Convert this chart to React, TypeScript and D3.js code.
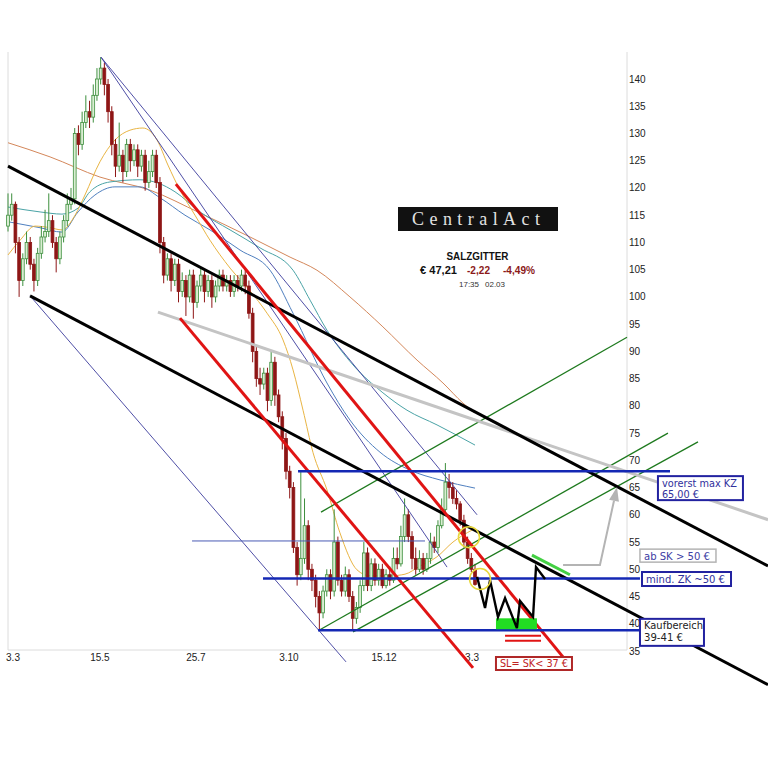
import React from 'react';
import * as d3 from 'd3';

// candle closes, one every 2 trading days
const closes = [
  115, 117, 110, 103, 107, 110, 106, 103, 108, 111,
  112, 114, 110, 107, 111, 114, 117, 118, 130, 128,
  132, 134, 133, 137, 140, 142, 139, 134, 128, 124,
  126, 123, 128, 125, 127, 124, 126, 121, 123, 126,
  121, 110, 104, 107, 103, 106, 101, 103, 100, 104,
  99, 102, 104, 101, 103, 100, 102, 104, 102, 103,
  101, 103, 102, 104, 102, 97, 90, 85, 84, 86,
  81, 88, 82, 78, 74, 68, 65, 54, 49, 52,
  58, 50, 48, 45, 42, 46, 49, 46, 55, 48,
  46, 49, 45, 41, 43, 47, 53, 47, 51, 48,
  50, 47, 49, 48, 52, 51, 56, 60, 56, 52,
  50, 52, 50, 52, 55, 54, 58, 61, 66, 65,
  63, 62, 59, 55, 52, 50, 47.2,
];
const highs = [
  119, 119, 117.5, 111, 108, 112, 111, 107, 109, 113,
  116, 119, 115, 111, 112, 115, 119, 120, 131, 131.5,
  134, 137, 136, 139, 142, 144, 143, 140, 135, 129,
  132, 127, 129, 129, 128, 128, 127, 127, 125, 127,
  127, 122, 111, 108, 108, 107, 107, 104.5, 104, 105,
  105, 103, 105.5, 105, 104, 104, 103, 105, 105, 104,
  104, 104, 104, 105, 105, 103, 98, 91, 87, 87,
  87, 90, 89, 83, 79, 75, 69, 66, 55, 68,
  63, 59, 51, 49, 46, 47, 50, 50, 61, 56,
  49, 50.5, 50, 46, 44, 48, 55, 54, 52, 52,
  51, 51, 50, 50.5, 54, 54, 58, 63, 61, 57,
  54, 53.5, 53, 53, 56.7, 56, 59, 63, 69.5, 67.5,
  66, 64.5, 62.5, 60, 56, 53, 51,
];
const lows = [
  112, 114, 108, 100, 102, 106, 105, 101, 102, 107,
  110, 111, 109, 104.5, 106, 110, 113, 116, 117, 126,
  127, 131, 131, 132, 136, 139, 137, 132, 126, 122,
  123, 121, 122, 123, 124, 122, 123, 119.5, 120, 122,
  120, 108, 102.5, 103, 101, 102, 99, 100, 96.5, 99,
  96, 98, 101, 99, 100, 98, 99, 101, 101, 101,
  100, 100, 101, 101, 100.5, 96, 88, 83.5, 82, 83,
  79, 80, 80, 77, 72, 66.5, 63, 53, 47, 48,
  51, 48, 46, 43, 39, 41, 45, 44.5, 45, 47,
  45, 45, 44, 39, 40, 42, 46, 46, 46, 47,
  47, 46.5, 46.5, 47, 47.5, 50, 50.5, 55, 55, 50,
  49, 49.5, 49, 49.5, 51, 53, 53, 57.5, 60, 63,
  62, 61, 58, 54, 51, 49.5, 47,
];
const firstOpen = 113;
const candleStep = 2;

// moving averages, [trading day, price]
const maLong = [
  [0, 128.3], [22.7, 125.7], [49.6, 122.0], [76.6, 119.6], [103.6, 115.4], [130.6, 111.0],
  [152.2, 107.3], [166.7, 104.9], [184.5, 100.0], [202.3, 94.5], [220.7, 88.4],
  [234.7, 84.2], [245.5, 80.5], [252, 78.7],
];
const maMid = [
  [0, 116.5], [17.3, 115.6], [29.1, 115.2], [37.8, 116.3], [44.2, 119.3], [55, 121.1],
  [71.2, 121.5], [80.9, 120.9], [90.1, 119.3], [103.6, 115.6], [119.8, 112.3], [136, 109.0],
  [153.8, 104.9], [163, 99.4], [172.1, 93.9], [186.2, 87.5], [202.3, 82.4], [215.3, 79.2],
  [231.5, 76.5], [252, 72.8],
];
const maShort = [
  [0, 113.8], [17.3, 112.7], [29.1, 111.9], [37.8, 115.6], [46.9, 118.7], [57.7, 120.2],
  [71.2, 120.2], [82, 118.2], [95.5, 115.0], [109, 112.3], [125.2, 108.6], [141.4, 104.9],
  [153.8, 97.0], [172.1, 84.2], [184.5, 77.4], [200.7, 71.5], [216.9, 68.2], [233.1, 66.4],
  [252, 64.9],
];
const maFast = [
  [0, 107.7], [6.5, 110.4], [14.6, 113.0], [22.7, 112.7], [29.1, 112.3], [36.2, 115.0],
  [41.5, 118.7], [49.6, 124.8], [57.7, 128.8], [65.8, 130.6], [72.8, 131.0], [80.4, 128.8],
  [86.3, 124.2], [92.8, 119.6], [100.9, 115.0], [109, 110.4], [119.8, 105.3], [130.6, 101.1],
  [139.8, 97.0], [148.4, 92.1], [153.8, 86.6], [159.2, 79.2], [164.6, 71.4], [172.1, 64.6],
  [179.1, 56.7], [188.3, 49.9], [195.3, 48.8], [206.1, 48.8], [214.2, 49.1], [222.3, 50.6],
  [231.5, 52.3], [240.1, 55.0], [250.4, 57.2],
];

// drawn trend lines [day, price] -> [day, price]
const blackLines = [[[0, 124.0], [410.1, 50.6]], [[11.9, 100.2], [410.1, 28.8]]];
const greyLine = [[80.9, 97.2], [410.1, 59.1]];
const redLines = [[[90.6, 120.7], [304.3, 31.9]], [[92.8, 96.1], [250.9, 31.9]]];
const greenLines = [
  [[168.9, 60.5], [334, 92.6]],
  [[168.3, 38.9], [356.1, 75.0]],
  [[186.2, 38.5], [372.3, 73.4]],
];
const navyLines = [
  [[50.2, 144.0], [236.9, 50.4]],
  [[50.2, 144.0], [253.1, 60.0]],
  [[11.9, 100.2], [182.4, 33.0]],
];
const blueLevels = [
  { price: 68, from: 156.5, to: 357.2 },
  { price: 48.3, from: 137.6, to: 341 },
  { price: 38.8, from: 167.3, to: 341 },
];
const thinLevel = { price: 55.2, from: 99.3, to: 225 };
const stopLevels = [37.8, 36.9];
const stopRange = [268.2, 287.6];
const buyZone = { from: 263.3, to: 285.4, low: 39, high: 41 };
const resistLine = [[282.7, 52.6], [303.2, 49.0]];
const scenario = [
  [253.1, 48.6], [257.4, 42.9], [260.1, 48.0], [264.4, 41.25], [268.2, 44.7],
  [274.6, 39.2], [276.3, 44.2], [283.3, 41.25], [284.9, 50.4], [289.8, 48.2],
];
const arrowPath = [[299.5, 50.8], [319.4, 50.8], [328.6, 65.1]];
const circles = [[248.7, 55.9], [254.7, 48.2]];

const priceTicks = [35, 40, 45, 50, 55, 60, 65, 70, 75, 80, 85, 90, 95, 100, 105, 110, 115, 120, 125, 130, 135, 140];
const dateTicks = [2.7, 49.6, 101.4, 151.6, 202.9, 250.4];
const dateLabels = ['3.3', '15.5', '25.7', '3.10', '15.12', '3.3'];

const notes = [
  { lines: ['vorerst max KZ', '65,00 €'], day: 350.7, price: 67.1, w: 85, h: 24, stroke: '#2222a0', color: '#30309c', lens: [75, 37] },
  { lines: ['ab SK > 50 €'], day: 341, price: 53.7, w: 76, h: 13, stroke: '#b4b4b4', color: '#4040a4', lens: [66] },
  { lines: ['mind. ZK ~50 €'], day: 342.1, price: 49.5, w: 89, h: 14, stroke: '#2222a0', color: '#30309c', lens: [79] },
  { lines: ['Kaufbereich', '39-41 €'], day: 341, price: 40.9, w: 64, h: 27, stroke: '#2222a0', color: '#222222', lens: [59, 39] },
  { lines: ['SL= SK< 37 €'], day: 263.3, price: 33.9, w: 76, h: 13, stroke: '#b02828', color: '#c02222', lens: [68] },
];

const sans = '"Liberation Sans", Arial, sans-serif';
const boxFont = '"DejaVu Sans", Verdana, sans-serif';

export default function App() {
  const x = d3.scaleLinear().domain([0, 334]).range([8, 627]);
  const y = d3.scaleLinear().domain([35, 140]).range([651, 79]);
  const top = 52;
  const bottom = 650;

  const candles = closes.map((c, i) => ({
    day: i * candleStep,
    open: i === 0 ? firstOpen : closes[i - 1],
    close: c,
    high: highs[i],
    low: lows[i],
  }));

  const curve = d3.line<number[]>().x(d => x(d[0])).y(d => y(d[1])).curve(d3.curveMonotoneX);
  const straight = d3.line<number[]>().x(d => x(d[0])).y(d => y(d[1]));

  // arrow head
  const a1 = arrowPath[1];
  const a2 = arrowPath[2];
  const tx = x(a2[0]), ty = y(a2[1]);
  const dx = tx - x(a1[0]), dy = ty - y(a1[1]);
  const len = Math.hypot(dx, dy);
  const ux = dx / len, uy = dy / len;
  const bx = tx - ux * 14, by = ty - uy * 14;
  const head = `${tx},${ty} ${bx - uy * 5},${by + ux * 5} ${bx + uy * 5},${by - ux * 5}`;
  const shaft = `M${x(arrowPath[0][0])},${y(arrowPath[0][1])}L${x(a1[0])},${y(a1[1])}L${bx},${by}`;

  return (
    <svg width={768} height={768} style={{ position: 'absolute', left: 0, top: 0, background: '#fff' }}>
      <rect width={768} height={768} fill="#fff" />
      {/* frame */}
      <line x1={x(0)} x2={x(0)} y1={top} y2={bottom} stroke="#dcdcdc" />
      <line x1={x(334)} x2={x(334)} y1={top} y2={bottom} stroke="#dcdcdc" />
      <line x1={x(0)} x2={x(334)} y1={bottom} y2={bottom} stroke="#dcdcdc" />

      {priceTicks.map(t => (
        <text key={t} x={x(334) + 2} y={y(t)} dy="0.35em" fontSize={10} fontFamily={sans} fill="#222">{t}</text>
      ))}
      {dateTicks.map((t, i) => (
        <text key={i} x={x(t)} y={bottom + 10.5} textAnchor="middle" fontSize={10} fontFamily={sans} fill="#222">{dateLabels[i]}</text>
      ))}

      {/* moving averages */}
      <path d={curve(maLong) || ''} fill="none" stroke="#d4875a" strokeWidth={1} />
      <path d={curve(maMid) || ''} fill="none" stroke="#4aa3a6" strokeWidth={1} />
      <path d={curve(maShort) || ''} fill="none" stroke="#4f7fbf" strokeWidth={1} />
      <path d={curve(maFast) || ''} fill="none" stroke="#e9b544" strokeWidth={1} />

      {/* candles */}
      {candles.map((c, i) => {
        const up = c.close >= c.open;
        const col = up ? '#3d8f3d' : '#8e1616';
        const yt = y(Math.max(c.open, c.close));
        const yb = y(Math.min(c.open, c.close));
        return (
          <g key={i}>
            <line x1={x(c.day)} x2={x(c.day)} y1={y(c.high)} y2={y(c.low)} stroke={col} strokeWidth={1} />
            <rect x={x(c.day) - 1.4} y={yt} width={2.8} height={Math.max(1, yb - yt)}
              fill={up ? '#d9eed2' : '#8e1616'} stroke={col} strokeWidth={0.8} />
          </g>
        );
      })}

      {/* trend lines */}
      {navyLines.map((l, i) => (
        <path key={i} d={straight(l) || ''} stroke="#3b3b9c" strokeWidth={0.9} fill="none" />
      ))}
      <line x1={x(thinLevel.from)} x2={x(thinLevel.to)} y1={y(thinLevel.price)} y2={y(thinLevel.price)} stroke="#4a5ab4" strokeWidth={1} />
      {greenLines.map((l, i) => (
        <path key={i} d={straight(l) || ''} stroke="#1e7a1e" strokeWidth={1.3} fill="none" />
      ))}
      <path d={straight(greyLine) || ''} stroke="#c4c4c4" strokeWidth={3} fill="none" />
      {blackLines.map((l, i) => (
        <path key={i} d={straight(l) || ''} stroke="#000" strokeWidth={3} fill="none" />
      ))}
      {redLines.map((l, i) => (
        <path key={i} d={straight(l) || ''} stroke="#e01414" strokeWidth={3} fill="none" />
      ))}
      {blueLevels.map((b, i) => (
        <line key={i} x1={x(b.from)} x2={x(b.to)} y1={y(b.price)} y2={y(b.price)} stroke="#1428b4" strokeWidth={2.6} />
      ))}

      {/* scenario */}
      <rect x={x(buyZone.from)} y={y(buyZone.high)} width={x(buyZone.to) - x(buyZone.from)}
        height={y(buyZone.low) - y(buyZone.high)} fill="#22dd22" />
      {stopLevels.map((p, i) => (
        <line key={i} x1={x(stopRange[0])} x2={x(stopRange[1])} y1={y(p)} y2={y(p)} stroke="#e01414" strokeWidth={2} />
      ))}
      <path d={straight(resistLine) || ''} stroke="#44d044" strokeWidth={3} fill="none" />
      <path d={straight(scenario) || ''} stroke="#000" strokeWidth={2.4} fill="none" strokeLinejoin="miter" />
      <path d={shaft} stroke="#b4b4b4" strokeWidth={2} fill="none" />
      <polygon points={head} fill="#b4b4b4" />
      {circles.map((c, i) => (
        <circle key={i} cx={x(c[0])} cy={y(c[1])} r={10.5} fill="none" stroke="#e8d83c" strokeWidth={1.5} />
      ))}

      {/* note boxes */}
      {notes.map((n, i) => {
        const bx0 = x(n.day);
        const by0 = y(n.price);
        return (
          <g key={i}>
            <rect x={bx0} y={by0} width={n.w} height={n.h} fill="#fff" stroke={n.stroke} strokeWidth={n.stroke === '#b4b4b4' ? 1.5 : 2} />
            {n.lines.map((t, j) => (
              <text key={j} x={bx0 + 4} y={by0 + 10.5 + j * 11.5} fontSize={10.5} fontFamily={boxFont}
                fill={n.color} textLength={n.lens[j]} lengthAdjust="spacingAndGlyphs">{t}</text>
            ))}
          </g>
        );
      })}

      {/* header */}
      <rect x={398} y={207} width={160} height={24} fill="#111" />
      <text x={412} y={225} fontSize={18} fontFamily='"Liberation Serif", "Times New Roman", serif' fill="#e2e2e2"
        textLength={128} lengthAdjust="spacing">CentralAct</text>
      <text x={477.5} y={259.5} textAnchor="middle" fontSize={10.5} fontWeight="bold" fontFamily={sans} fill="#111"
        textLength={62} lengthAdjust="spacingAndGlyphs">SALZGITTER</text>
      <text x={420} y={274} fontSize={10.5} fontWeight="bold" fontFamily={sans} fill="#111"
        textLength={37} lengthAdjust="spacingAndGlyphs">€ 47,21</text>
      <text x={467} y={274} fontSize={10.5} fontWeight="bold" fontFamily={sans} fill="#8b1a1a"
        textLength={23} lengthAdjust="spacingAndGlyphs">-2,22</text>
      <text x={503} y={274} fontSize={10.5} fontWeight="bold" fontFamily={sans} fill="#8b1a1a"
        textLength={32} lengthAdjust="spacingAndGlyphs">-4,49%</text>
      <text x={459} y={287} fontSize={8} fontFamily={sans} fill="#333">17:35</text>
      <text x={485} y={287} fontSize={8} fontFamily={sans} fill="#333">02.03</text>
    </svg>
  );
}
